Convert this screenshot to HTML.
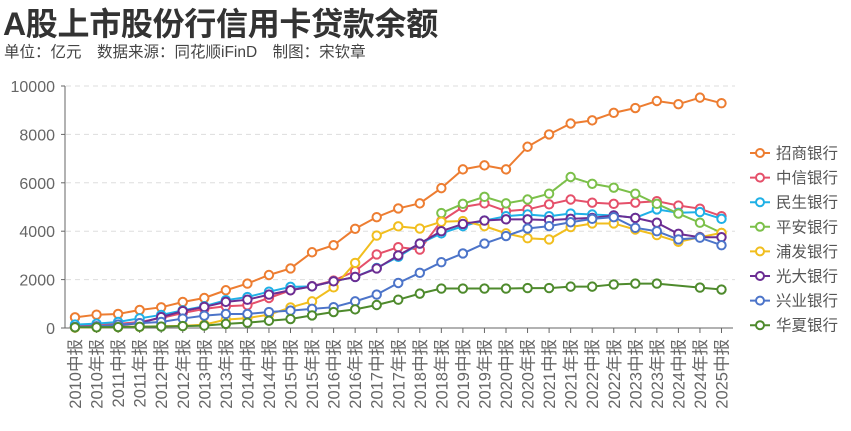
<!DOCTYPE html>
<html><head><meta charset="utf-8"><style>
body{margin:0;background:#fff;width:851px;height:426px;overflow:hidden;font-family:"Liberation Sans","Noto Sans CJK SC",sans-serif}
</style></head><body>
<svg id="s" width="851" height="426" xmlns="http://www.w3.org/2000/svg" font-family="Liberation Sans, Noto Sans CJK SC, sans-serif">
<text x="3" y="35" font-size="32" font-weight="bold" fill="#333" letter-spacing="-0.3">A股上市股份行信用卡贷款余额</text>
<text x="4" y="57" font-size="15.5" fill="#444">单位：亿元　数据来源：同花顺iFinD　制图：宋钦章</text>
</svg>
<script>
const s=document.getElementById('s'),NS='http://www.w3.org/2000/svg';
function el(t,a,txt){const e=document.createElementNS(NS,t);for(const k in a)e.setAttribute(k,a[k]);if(txt)e.textContent=txt;s.appendChild(e);return e;}
const X=i=>75+i*21.55, Y=v=>328-v*0.0242;
for(let v=0;v<=10000;v+=2000){const y=Y(v);
 if(v>0)el('line',{x1:66,x2:735,y1:y,y2:y,stroke:'#ddd','stroke-dasharray':'5,4'});
 el('line',{x1:61,x2:65,y1:y,y2:y,stroke:'#666'});
 el('text',{x:55,y:y+6,'font-size':16,fill:'#666','text-anchor':'end'},String(v));}
el('line',{x1:65,x2:65,y1:86,y2:328,stroke:'#666'});
el('line',{x1:65,x2:733,y1:328,y2:328,stroke:'#666'});
const labs=[];for(let y=2010;y<=2025;y++){labs.push(y+'中报');if(y<2025)labs.push(y+'年报');}
labs.forEach((l,i)=>{const x=X(i);el('line',{x1:x,x2:x,y1:328,y2:333,stroke:'#666'});
 el('text',{x:0,y:0,'font-size':16.5,fill:'#666','text-anchor':'end',transform:`translate(${x+6},339) rotate(-90)`},l);});
const N=null;
const D=[
['招商银行','#ED7D31',[440,550,580,745,855,1075,1240,1560,1835,2190,2460,3130,3420,4100,4580,4940,5150,5780,6555,6720,6555,7490,8000,8450,8580,8890,9090,9380,9250,9520,9290]],
['中信银行','#E5506A',[70,140,170,250,410,620,790,900,940,1240,1560,1730,1960,2350,3040,3340,3240,4420,5000,5150,4830,4900,5110,5310,5180,5130,5180,5240,5060,4930,4620]],
['民生银行','#1FB0E6',[140,180,250,400,540,730,900,1150,1280,1500,1700,1720,1930,2110,2480,2940,3490,3910,4210,4440,4620,4690,4620,4730,4690,4650,4550,4900,4760,4790,4510]],
['平安银行','#7CC04A',[N,N,N,N,N,N,N,N,N,N,N,N,N,N,N,N,N,4750,5130,5420,5150,5310,5550,6240,5960,5800,5550,5130,4730,4350,3930]],
['浦发银行','#F1BE1E',[20,30,40,50,70,90,140,345,410,550,850,1100,1680,2690,3820,4200,4110,4390,4420,4210,3910,3710,3660,4170,4320,4320,4070,3840,3560,3750,3930]],
['光大银行','#6B2D93',[40,70,110,200,450,700,870,1080,1170,1380,1560,1720,1930,2110,2460,3000,3490,4000,4300,4440,4490,4490,4460,4510,4550,4650,4550,4350,3890,3750,3750]],
['兴业银行','#4C74C9',[40,60,140,200,250,390,510,580,580,660,720,790,860,1100,1380,1860,2280,2720,3080,3490,3800,4110,4210,4370,4510,4580,4140,4000,3660,3730,3420]],
['华夏银行','#4E8A2C',[30,30,40,50,60,80,100,170,220,300,370,520,660,770,950,1170,1420,1630,1630,1630,1630,1650,1650,1710,1710,1800,1835,1835,N,1670,1590]]];
D.forEach((d,k)=>{const pts=[];d[2].forEach((v,i)=>{if(v!=null)pts.push([X(i),Y(v)]);});
 el('polyline',{points:pts.map(p=>p.join(',')).join(' '),fill:'none',stroke:d[1],'stroke-width':2});
 pts.forEach(p=>el('circle',{cx:p[0],cy:p[1],r:4.2,fill:'#fff',stroke:d[1],'stroke-width':2}));
 const ly=153+k*24.6;
 el('line',{x1:750,x2:770,y1:ly,y2:ly,stroke:d[1],'stroke-width':2});
 el('circle',{cx:760,cy:ly,r:4,fill:'#fff',stroke:d[1],'stroke-width':2});
 el('text',{x:776,y:ly+5.5,'font-size':15.5,fill:'#555'},d[0]);});
</script>
</body></html>
